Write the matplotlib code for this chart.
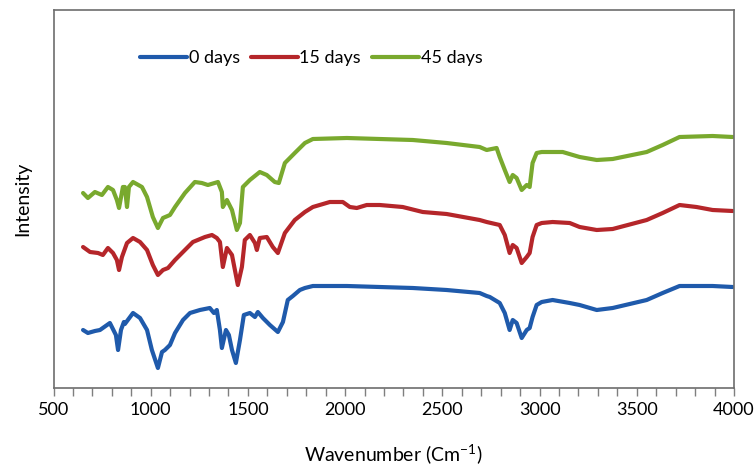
import numpy as np
import matplotlib
matplotlib.use("Agg")
import matplotlib.pyplot as plt
from matplotlib.ticker import MultipleLocator, NullLocator

plt.rcParams['font.family'] = ['Lato', 'DejaVu Sans']

# FTIR spectra (wavenumber cm-1, intensity a.u.)
wn_0 = [652, 677, 713, 739, 790, 821, 832, 847, 862, 867, 909, 945, 981, 1006, 1037,
        1058, 1073, 1099, 1125, 1166, 1202, 1253, 1304, 1325, 1340, 1356, 1366, 1387,
        1402, 1418, 1438, 1459, 1479, 1510, 1536, 1551, 1577, 1613, 1654, 1680, 1705,
        1731, 1767, 1793, 1834, 2009, 2178, 2348, 2522, 2692, 2728, 2744, 2795, 2821,
        2846, 2862, 2882, 2908, 2934, 2949, 2964, 2985, 3011, 3067, 3155, 3206, 3294,
        3376, 3551, 3633, 3720, 3890, 3993]
int_0 = [58, 55, 57, 58, 65, 53, 38, 58, 66, 64, 75, 70, 58, 38, 20,
         36, 38, 43, 55, 68, 75, 78, 80, 75, 78, 58, 40, 58,
         53, 38, 25, 48, 73, 75, 71, 76, 70, 63, 56, 66, 88,
         92, 98, 100, 102, 102, 101, 100, 98, 95, 92, 91, 85, 75,
         58, 68, 65, 50, 58, 60, 71, 83, 86, 88, 85, 83, 78,
         80, 88, 95, 102, 102, 101]

wn_15 = [652, 688, 729, 754, 780, 806, 826, 837, 852, 878, 909, 945, 981, 1011, 1037,
         1063, 1089, 1125, 1176, 1217, 1279, 1315, 1340, 1356, 1371, 1392, 1418, 1433,
         1448, 1469, 1484, 1510, 1536, 1546, 1561, 1597, 1628, 1654, 1690, 1741, 1793,
         1834, 1921, 1988, 2024, 2060, 2111, 2178, 2296, 2399, 2522, 2692, 2728, 2795,
         2821, 2846, 2862, 2882, 2908, 2934, 2949, 2964, 2985, 3011, 3067, 3155, 3206,
         3294, 3376, 3551, 3633, 3720, 3807, 3890, 3993]
int_15 = [141, 136, 135, 133, 140, 135, 128, 118, 131, 145, 150, 146, 138, 123, 113,
          118, 120, 128, 138, 146, 151, 153, 150, 146, 121, 140, 133, 118,
          103, 121, 148, 153, 145, 138, 150, 151, 141, 135, 155, 168, 176,
          181, 186, 186, 181, 180, 183, 183, 181, 176, 174, 168, 166, 163,
          153, 135, 143, 140, 125, 131, 135, 151, 163, 165, 166, 165, 161,
          158, 159, 168, 175, 183, 181, 178, 177]

wn_45 = [652, 677, 713, 749, 780, 806, 826, 837, 857, 867, 878, 888, 909, 955, 981,
         1011, 1037, 1063, 1099, 1125, 1176, 1227, 1263, 1294, 1346, 1366, 1371, 1392,
         1418, 1443, 1459, 1474, 1510, 1561, 1597, 1638, 1659, 1690, 1741, 1793, 1834,
         2009, 2178, 2348, 2522, 2692, 2728, 2779, 2795, 2821, 2846, 2862, 2882, 2908,
         2934, 2949, 2964, 2985, 3011, 3067, 3119, 3206, 3294, 3376, 3551, 3633, 3720,
         3890, 3993]
int_45 = [195, 190, 196, 193, 201, 198, 188, 180, 201, 201, 181, 201, 206, 201, 191,
          171, 160, 170, 173, 181, 195, 206, 205, 203, 206, 196, 181, 188,
          178, 158, 165, 201, 208, 216, 213, 206, 205, 225, 235, 245, 249,
          250, 249, 248, 245, 241, 238, 240, 231, 218, 206, 213, 210, 198,
          203, 201, 225, 235, 236, 236, 236, 231, 228, 229, 236, 243, 251,
          252, 251]

labels = ['0 days', '15 days', '45 days']
colors = ['#1f5aab', '#b5262a', '#79a92e']

fig = plt.figure(figsize=(7.56, 4.70), dpi=100)
ax = fig.add_axes([53.5 / 756, 82 / 470, 680.5 / 756, 378 / 470])

for x, y, lab, c in zip([wn_0, wn_15, wn_45], [int_0, int_15, int_45], labels, colors):
    ax.plot(x, y, color=c, lw=3, label=lab, solid_joinstyle='round', solid_capstyle='round')

ax.set_xlim(500, 4000)
ax.set_ylim(0, 378)
ax.xaxis.set_major_locator(MultipleLocator(500))
ax.xaxis.set_minor_locator(MultipleLocator(100))
ax.yaxis.set_major_locator(NullLocator())
ax.tick_params(axis='x', which='both', direction='out', length=6, width=1,
               color='#7f7f7f', labelsize=13, pad=4)
for s in ax.spines.values():
    s.set_color('#6d6d6d')
    s.set_linewidth(1.2)

ax.set_xlabel('Wavenumber (Cm$^{\\mathregular{-1}}$)', fontsize=14, labelpad=18)
ax.set_ylabel('Intensity', fontsize=14, labelpad=16)

fig.legend(loc='center left', bbox_to_anchor=(140 / 756, 1 - 58 / 470), ncol=3,
           frameon=False, fontsize=13, handlelength=2.6, handletextpad=0.1,
           columnspacing=0.6, borderpad=0, borderaxespad=0)

fig.savefig('out.png', dpi=100)
